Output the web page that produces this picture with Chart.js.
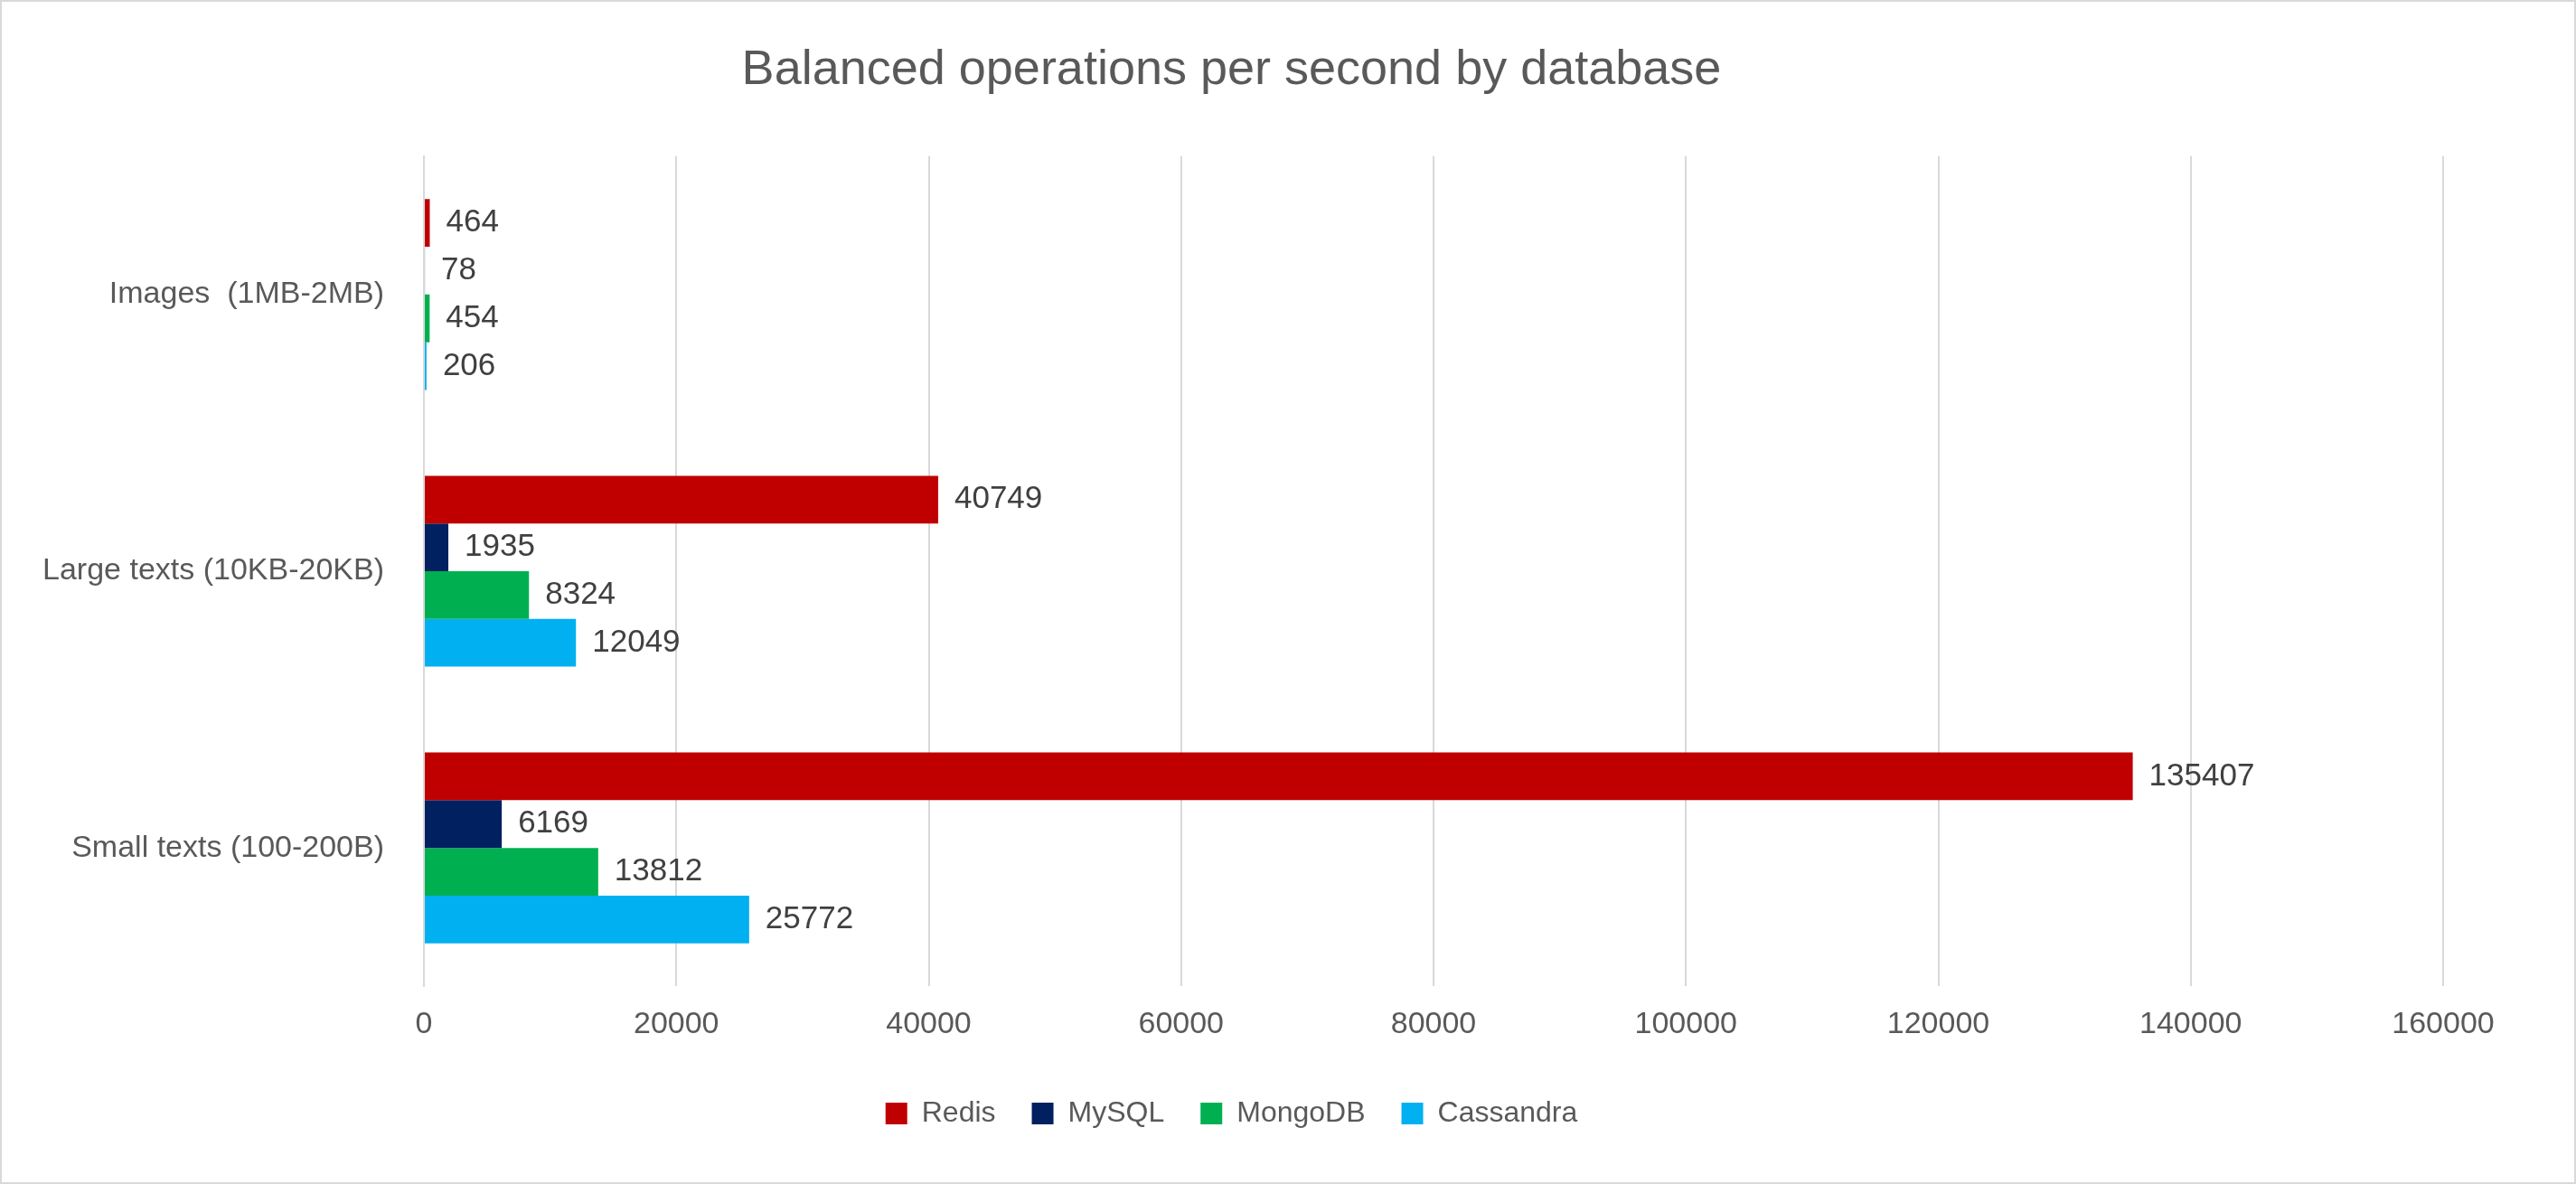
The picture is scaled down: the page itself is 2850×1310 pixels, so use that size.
<!DOCTYPE html>
<html>
<head>
<meta charset="utf-8">
<script src="https://cdn.jsdelivr.net/npm/chart.js@4/dist/chart.umd.min.js"></script>
<style>
  html, body { margin: 0; padding: 0; background: #fff; }
  #wrap { width: 2850px; height: 1310px; box-sizing: border-box; border: 2px solid #d9d9d9; }
</style>
</head>
<body>
<div id="wrap"><canvas id="chart" width="2846" height="1306"></canvas></div>
<script>
const categories = ['Images  (1MB-2MB)', 'Large texts (10KB-20KB)', 'Small texts (100-200B)']
const redis = [464, 40749, 135407]
const mysql = [78, 1935, 6169]
const mongodb = [454, 8324, 13812]
const cassandra = [206, 12049, 25772]
const xTicks = [0, 20000, 40000, 60000, 80000, 100000, 120000, 140000, 160000]

const font = "'Liberation Sans', Arial, sans-serif"

// draws the value next to each bar end
const valueLabels = {
  id: 'valueLabels',
  afterDatasetsDraw(chart) {
    const ctx = chart.ctx
    ctx.save()
    ctx.font = '35px ' + font
    ctx.fillStyle = '#404040'
    ctx.textBaseline = 'middle'
    chart.data.datasets.forEach((ds, i) => {
      chart.getDatasetMeta(i).data.forEach((bar, j) => {
        ctx.fillText(String(ds.data[j]), bar.x + 18, bar.y)
      })
    })
    ctx.restore()
  }
}

new Chart(document.getElementById('chart'), {
  type: 'bar',
  data: {
    labels: categories,
    datasets: [
      { label: 'Redis', data: redis, backgroundColor: '#C00000' },
      { label: 'MySQL', data: mysql, backgroundColor: '#002060' },
      { label: 'MongoDB', data: mongodb, backgroundColor: '#00B050' },
      { label: 'Cassandra', data: cassandra, backgroundColor: '#00B0F0' },
    ]
  },
  options: {
    indexAxis: 'y',
    responsive: false,
    animation: false,
    devicePixelRatio: 1,
    categoryPercentage: 0.69,
    barPercentage: 1,
    layout: { padding: { left: 20, right: 145, top: 24, bottom: 50 } },
    scales: {
      x: {
        min: 0, max: 160000,
        afterBuildTicks(axis) { axis.ticks = xTicks.map(v => ({ value: v })) },
        grid: { color: '#d9d9d9', lineWidth: 2, drawTicks: false },
        border: { display: false },
        ticks: {
          color: '#595959', font: { size: 34, family: font }, padding: 22,
          callback: v => String(v)
        }
      },
      y: {
        afterFit(axis) { axis.width = 447 },
        grid: { display: false },
        border: { color: '#d9d9d9', width: 2 },
        ticks: { color: '#595959', font: { size: 34, family: font }, padding: 36 }
      }
    },
    plugins: {
      title: {
        display: true,
        text: 'Balanced operations per second by database',
        color: '#595959',
        font: { size: 54, family: font, weight: 'normal' },
        padding: { top: 20, bottom: 62 }
      },
      legend: {
        position: 'bottom',
        labels: {
          color: '#595959',
          font: { size: 32, family: font },
          boxWidth: 24, boxHeight: 24, padding: 40
        }
      },
      tooltip: { enabled: false }
    }
  },
  plugins: [valueLabels]
})
</script>
</body>
</html>
